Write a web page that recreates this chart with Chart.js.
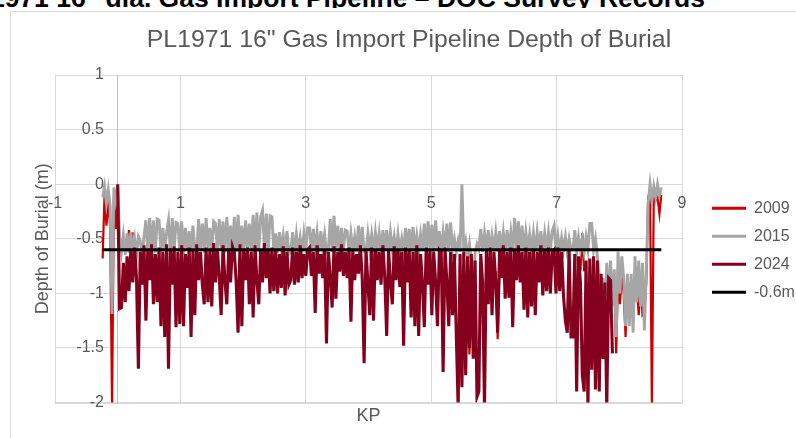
<!DOCTYPE html>
<html>
<head>
<meta charset="utf-8">
<script src="https://cdn.jsdelivr.net/npm/chart.js@4.4.0/dist/chart.umd.min.js"></script>
<style>
  html, body { margin: 0; padding: 0; background: #fff; overflow: hidden; }
  body { width: 796px; height: 438px; position: relative; font-family: 'Liberation Sans', Arial, sans-serif; }
  #hdr { position: absolute; left: 0; top: 0; width: 796px; height: 8px; overflow: hidden; }
  #hdr span { position: absolute; right: 91px; top: -15px; white-space: nowrap; font-weight: bold; font-size: 26.5px; line-height: 26.5px; color: #000; }
  #frame { position: absolute; left: 10px; top: 11px; width: 800px; height: 440px; border: 1px solid #d9d9d9; }
  #chart { position: absolute; left: 0; top: 0; }
</style>
</head>
<body>
<div id="hdr"><span>PL1971 16" dia. Gas Import Pipeline – DOC Survey Records</span></div>
<div id="frame"></div>
<canvas id="chart" width="796" height="438"></canvas>
<script>
// survey positions (KP) shared by the three surveys
const kp = [
  -0.24,-0.21,-0.18,-0.15,-0.12,-0.09,-0.06,-0.03,0,0.03,
  0.06,0.09,0.12,0.15,0.18,0.21,0.24,0.27,0.3,0.33,
  0.36,0.39,0.42,0.45,0.48,0.51,0.54,0.57,0.6,0.63,
  0.66,0.69,0.72,0.75,0.78,0.81,0.84,0.87,0.9,0.93,
  0.96,0.99,1.02,1.05,1.08,1.11,1.14,1.17,1.2,1.23,
  1.26,1.29,1.32,1.35,1.38,1.41,1.44,1.47,1.5,1.53,
  1.56,1.59,1.62,1.65,1.68,1.71,1.74,1.77,1.8,1.83,
  1.86,1.89,1.92,1.95,1.98,2.01,2.04,2.07,2.1,2.13,
  2.16,2.19,2.22,2.25,2.28,2.31,2.34,2.37,2.4,2.43,
  2.46,2.49,2.52,2.55,2.58,2.61,2.64,2.67,2.7,2.73,
  2.76,2.79,2.82,2.85,2.88,2.91,2.94,2.97,3,3.03,
  3.06,3.09,3.12,3.15,3.18,3.21,3.24,3.27,3.3,3.33,
  3.36,3.39,3.42,3.45,3.48,3.51,3.54,3.57,3.6,3.63,
  3.66,3.69,3.72,3.75,3.78,3.81,3.84,3.87,3.9,3.93,
  3.96,3.99,4.02,4.05,4.08,4.11,4.14,4.17,4.2,4.23,
  4.26,4.29,4.32,4.35,4.38,4.41,4.44,4.47,4.5,4.53,
  4.56,4.59,4.62,4.65,4.68,4.71,4.74,4.77,4.8,4.83,
  4.86,4.89,4.92,4.95,4.98,5.01,5.04,5.07,5.1,5.13,
  5.16,5.19,5.22,5.25,5.28,5.31,5.34,5.37,5.4,5.43,
  5.46,5.49,5.52,5.55,5.58,5.61,5.64,5.67,5.7,5.73,
  5.76,5.79,5.82,5.85,5.88,5.91,5.94,5.97,6,6.03,
  6.06,6.09,6.12,6.15,6.18,6.21,6.24,6.27,6.3,6.33,
  6.36,6.39,6.42,6.45,6.48,6.51,6.54,6.57,6.6,6.63,
  6.66,6.69,6.72,6.75,6.78,6.81,6.84,6.87,6.9,6.93,
  6.96,6.99,7.02,7.05,7.08,7.11,7.14,7.17,7.2,7.23,
  7.26,7.29,7.32,7.35,7.38,7.41,7.44,7.47,7.5,7.53,
  7.56,7.59,7.62,7.65,7.68,7.71,7.74,7.77,7.8,7.83,
  7.86,7.89,7.92,7.95,7.98,8.01,8.04,8.07,8.1,8.13,
  8.16,8.19,8.22,8.25,8.28,8.31,8.34,8.37,8.4,8.43,
  8.46,8.49,8.52,8.55,8.58,8.61,8.64,8.67
];

const dob2009 = [
  -0.68,-0.1,-0.38,-0.15,-0.4,-2.05,-0.1,-0.41,-0.05,null,
  null,null,null,-0.6,-0.42,-0.62,-0.44,null,null,null,
  null,null,null,null,null,null,null,null,null,null,
  null,null,null,null,null,null,null,null,null,null,
  null,null,null,null,null,null,null,null,null,null,
  null,null,null,null,null,null,null,null,null,null,
  null,null,null,null,null,null,null,null,null,null,
  null,null,null,null,null,null,null,null,null,null,
  null,null,null,null,null,null,null,null,null,null,
  null,null,null,null,null,null,null,null,null,null,
  null,null,null,null,null,null,null,null,null,null,
  null,null,null,null,null,null,null,null,null,null,
  null,null,null,null,null,null,null,null,null,null,
  null,null,null,null,null,null,null,null,null,null,
  null,null,null,null,null,null,null,null,null,null,
  null,null,null,null,null,null,null,null,null,null,
  null,null,null,null,null,null,null,null,null,null,
  null,null,null,null,null,null,null,null,null,null,
  null,null,null,null,null,null,null,null,null,null,
  null,null,null,null,-0.9,-1.56,-0.9,null,null,null,
  null,null,null,null,null,null,null,null,null,-0.8,
  -1.42,-0.8,null,null,null,null,null,null,null,null,
  null,null,null,null,null,null,null,null,null,null,
  null,null,null,null,null,null,null,null,null,null,
  null,null,null,null,null,null,null,null,null,null,
  null,null,null,null,-0.8,-0.45,-0.8,null,null,null,
  null,null,null,null,null,null,null,null,null,null,
  null,null,-0.9,-1.55,-0.85,-1.1,-0.85,-1.0,-1.4,-0.9,
  -0.95,-0.9,-1.0,-0.9,-0.95,-1.2,-0.9,-1.2,-1.18,-0.9,
  -0.12,-0.06,-2.05,-0.1,-0.15,-0.12,-0.27,-0.1
];

const dob2015 = [
  -0.12,-0.02,-0.18,-0.05,-0.2,-1.19,-0.03,-0.15,-0.02,-0.48,
  -0.62,-0.47,-0.65,-0.45,-0.63,-0.44,-0.62,-0.5,-0.66,-0.48,
  -0.52,-0.66,-0.48,-0.33,-0.62,-0.31,-0.6,-0.33,-0.63,-0.32,
  -0.33,-0.62,-0.4,-0.6,-0.44,-0.33,-0.62,-0.31,-0.6,-0.35,
  -0.36,-0.62,-0.34,-0.64,-0.4,-0.6,-0.43,-0.62,-0.38,-0.6,
  -0.62,-0.32,-0.6,-0.36,-0.63,-0.31,-0.6,-0.4,-0.62,-0.34,
  -0.36,-0.62,-0.32,-0.6,-0.34,-0.63,-0.3,-0.6,-0.38,-0.62,
  -0.3,-0.62,-0.28,-0.6,-0.38,-0.62,-0.33,-0.6,-0.36,-0.62,
  -0.28,-0.6,-0.26,-0.62,-0.3,-0.24,-0.6,-0.27,-0.62,-0.29,
  -0.3,-0.62,-0.45,-0.63,-0.44,-0.6,-0.47,-0.62,-0.43,-0.64,
  -0.62,-0.44,-0.64,-0.46,-0.62,-0.49,-0.63,-0.45,-0.6,-0.4,
  -0.4,-0.62,-0.41,-0.6,-0.44,-0.62,-0.43,-0.6,-0.46,-0.62,
  -0.6,-0.32,-0.62,-0.29,-0.6,-0.38,-0.62,-0.4,-0.6,-0.42,
  -0.43,-0.62,-0.45,-0.6,-0.48,-0.62,-0.38,-0.6,-0.39,-0.62,
  -0.62,-0.45,-0.6,-0.46,-0.62,-0.44,-0.6,-0.45,-0.62,-0.42,
  -0.6,-0.42,-0.62,-0.44,-0.6,-0.48,-0.63,-0.46,-0.62,-0.5,
  -0.63,-0.4,-0.6,-0.41,-0.62,-0.39,-0.6,-0.47,-0.62,-0.46,
  -0.6,-0.36,-0.62,-0.34,-0.6,-0.37,-0.62,-0.33,-0.6,-0.43,
  -0.62,-0.44,-0.6,-0.36,-0.62,-0.35,-0.6,-0.5,-0.62,-0.52,
  -0.62,0,-0.6,-0.52,-0.68,-0.55,-0.7,-1.07,-0.62,-0.55,
  -0.6,-0.41,-0.62,-0.45,-0.6,-0.42,-0.62,-0.47,-0.6,-0.44,
  -0.62,-0.43,-0.6,-0.44,-0.62,-0.42,-0.6,-0.44,-0.62,-0.31,
  -0.6,-0.34,-0.6,-0.38,-0.62,-0.44,-0.6,-0.46,-0.62,-0.45,
  -0.62,-0.44,-0.6,-0.43,-0.62,-0.45,-0.6,-0.44,-0.62,-0.43,
  -0.38,-0.6,-0.47,-0.62,-0.49,-0.6,-0.48,-0.62,-0.5,-0.6,
  -0.6,-0.42,-0.62,-0.48,-0.6,-0.5,-0.62,-0.48,-0.6,-0.36,
  -0.36,-0.6,-0.5,-0.66,-0.84,-1.1,-0.86,-1.22,-0.72,-1.1,
  -0.7,-1.12,-0.78,-1.4,-0.62,-1.0,-0.66,-0.85,-1.3,-0.82,
  -1.3,-0.82,-1.36,-0.66,-1.08,-0.7,-1.12,-0.72,-1.34,-0.8,
  -0.18,0,-0.15,-0.02,-0.12,0,-0.1,-0.03
];

const dob2024 = [
  null,null,null,null,null,null,null,null,0,-1.14,
  -1.13,-0.72,-1.08,-0.66,-0.98,-0.6,-0.9,-0.58,-0.86,-1.69,
  -0.62,-0.92,-0.56,-1.25,-0.6,-0.88,-0.55,-1.1,-0.64,-1.08,
  -0.58,-1.3,-0.62,-1.4,-0.55,-1.69,-0.6,-0.92,-0.57,-1.31,
  -0.62,-1.28,-0.56,-1.3,-0.64,-0.95,-0.58,-1.4,-0.6,-1.2,
  -0.55,-0.88,-0.62,-0.92,-1.1,-0.58,-1.08,-0.6,-1.12,-0.54,
  -0.9,-0.6,-0.85,-1.2,-0.56,-0.88,-1.1,-0.6,-0.9,-0.57,
  -0.62,-0.9,-1.36,-0.55,-1.3,-0.6,-0.88,-0.58,-1.1,-0.62,
  -1.22,-0.56,-0.88,-1.1,-0.6,-0.9,-0.54,-0.86,-0.6,-1.0,
  -0.58,-0.98,-0.6,-1.0,-0.64,-0.95,-0.57,-1.02,-0.62,-0.92,
  -0.88,-0.58,-0.92,-0.62,-0.9,-0.56,-0.86,-0.64,-0.84,-0.6,
  -0.58,-0.84,-0.62,-1.18,-0.56,-0.82,-0.64,-0.86,-0.6,-1.46,
  -0.62,-0.85,-1.13,-0.57,-1.05,-0.62,-0.8,-0.55,-0.84,-0.62,
  -0.86,-0.58,-1.26,-0.6,-0.88,-0.64,-0.82,-0.56,-0.86,-1.64,
  -0.6,-0.9,-1.2,-0.58,-1.25,-0.6,-0.88,-0.62,-0.92,-0.56,
  -0.86,-1.39,-0.6,-0.9,-1.1,-0.57,-0.88,-0.6,-0.94,-0.62,
  -1.48,-0.58,-0.9,-0.6,-1.22,-0.62,-1.3,-0.56,-1.39,-0.64,
  -0.9,-1.31,-0.58,-0.92,-0.6,-1.2,-0.62,-0.9,-1.3,-0.6,
  -0.62,-1.72,-0.58,-0.9,-1.3,-0.62,-1.2,-0.64,-1.37,-2.05,
  -0.64,-1.86,-0.62,-1.75,-0.66,-1.5,-0.64,-1.6,-0.7,-1.95,
  -1.9,-0.64,-0.9,-2.05,-0.6,-1.1,-0.58,-1.2,-0.62,-0.9,
  -1.36,-0.6,-0.86,-0.56,-1.05,-0.62,-1.04,-0.58,-1.31,-0.6,
  -0.88,-0.56,-0.9,-0.62,-1.15,-0.58,-1.22,-0.62,-1.12,-0.6,
  -1.2,-0.62,-0.9,-0.56,-1.02,-0.6,-0.98,-0.58,-1.0,-0.62,
  -0.6,-1.0,-0.58,-0.98,-0.62,-1.02,-1.25,-1.36,-0.6,-1.4,
  -1.4,-0.64,-1.9,-0.66,-0.9,-1.75,-1.9,-0.7,-2.05,-0.68,
  -1.7,-0.66,-1.88,-0.7,-1.9,-0.82,-1.6,-0.9,-2.05,-0.86,
  -0.88,-1.55,null,null,null,null,null,null,null,null,
  null,null,null,null,null,null,null,null,null,null,
  null,null,null,null,null,null,null,null
];

// -0.6m reference line
const refKp = [-0.24, 8.67];
const refDepth = [-0.6, -0.6];

const pts = (xs, ys) => xs.map((x, i) => ({ x: x, y: ys[i] }));

Chart.defaults.font.family = "'Liberation Sans', Arial, sans-serif";
Chart.defaults.color = '#595959';

const grey = '#595959';
const hidden = { ticks: { display: false }, grid: { display: false }, border: { display: false } };

const ctx = document.getElementById('chart').getContext('2d');
const chart = new Chart(ctx, {
    type: 'line',
    data: {
        datasets: [
            { label: '2009', data: pts(kp, dob2009), borderColor: '#cc0000', backgroundColor: '#cc0000', borderWidth: 2.2, order: 4 },
            { label: '2015', data: pts(kp, dob2015), borderColor: '#a6a6a6', backgroundColor: '#a6a6a6', borderWidth: 2.9, order: 3 },
            { label: '2024', data: pts(kp, dob2024), borderColor: '#85001c', backgroundColor: '#85001c', borderWidth: 3.1, order: 2 },
            { label: '-0.6m', data: pts(refKp, refDepth), borderColor: '#000000', backgroundColor: '#000000', borderWidth: 3, order: 1 }
        ]
    },
    options: {
        responsive: false,
        animation: false,
        elements: {
            point: { radius: 0 },
            line: { borderWidth: 2.7, tension: 0 }
        },
        layout: { padding: { top: 12, left: 22, right: 0, bottom: 0 } },
        plugins: {
            title: {
                display: true,
                text: 'PL1971 16" Gas Import Pipeline Depth of Burial',
                color: grey,
                font: { size: 24.8, weight: 'normal' },
                padding: { top: 13, bottom: 20.3 }
            },
            legend: {
                position: 'right',
                fullSize: false,
                maxWidth: 96,
                title: { display: true, text: ' ', font: { size: 10 }, padding: { top: 11, bottom: 0 } },
                labels: {
                    usePointStyle: true,
                    pointStyle: 'line',
                    pointStyleWidth: 34,
                    padding: 12,
                    color: grey,
                    font: { size: 16 },
                    sort: (a, b) => a.datasetIndex - b.datasetIndex,
                    generateLabels: c => Chart.defaults.plugins.legend.labels.generateLabels(c)
                        .map(l => Object.assign(l, { lineWidth: 3 }))
                }
            },
            tooltip: { enabled: false }
        },
        scales: {
            x: {
                type: 'linear',
                position: { y: 0 },
                min: -1,
                max: 9,
                ticks: { stepSize: 2, padding: 10, color: grey, font: { size: 16 }, maxRotation: 0, autoSkip: false },
                grid: { color: '#d9d9d9', drawTicks: false },
                border: { color: '#d9d9d9' }
            },
            y: {
                type: 'linear',
                position: { x: 0 },
                min: -2,
                max: 1,
                ticks: { stepSize: 0.5, display: false },
                grid: { color: '#d9d9d9', drawTicks: false, lineWidth: c => (c.tick && c.tick.value === -2 ? 2 : 1) },
                border: { color: '#bfbfbf' }
            },
            // depth labels sit just left of the vertical axis at KP 0
            yLabels: {
                type: 'linear',
                position: { x: -0.22 },
                min: -2,
                max: 1,
                ticks: { stepSize: 0.5, color: grey, font: { size: 16 }, callback: v => String(v) },
                grid: { display: false },
                border: { display: false }
            },
            kpTitle: Object.assign({
                type: 'linear',
                position: 'bottom',
                title: { display: true, text: 'KP', color: grey, font: { size: 18 }, padding: { top: 0, bottom: 11 } },
                afterFit: s => { s.height = 35.5; }
            }, hidden),
            depthTitle: Object.assign({
                type: 'linear',
                position: 'left',
                title: { display: true, text: 'Depth of Burial (m)', color: grey, font: { size: 18 }, padding: { top: 10, bottom: 0 } },
                afterFit: s => { s.width = 33; }
            }, hidden),
            gap: Object.assign({
                type: 'linear',
                position: 'right',
                afterFit: s => { s.width = 18; }
            }, hidden)
        }
    }
});
</script>
</body>
</html>
